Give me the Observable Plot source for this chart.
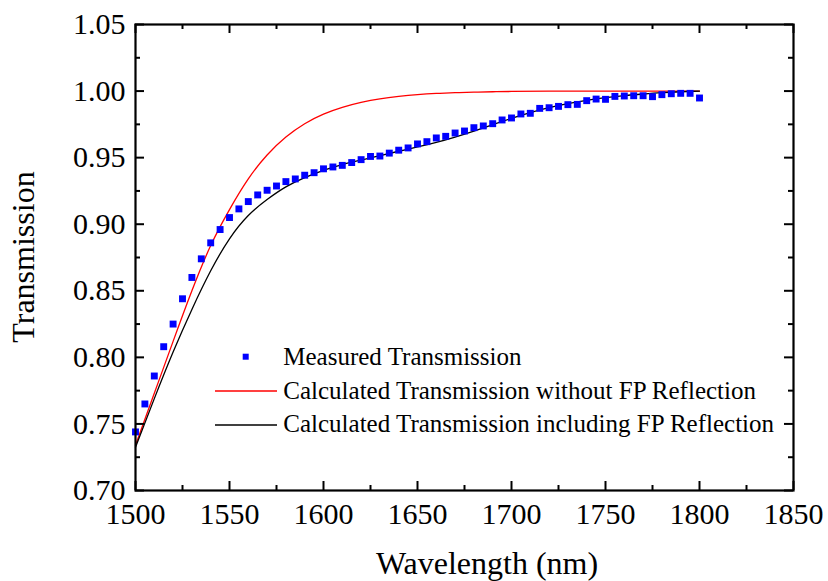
<!DOCTYPE html>
<html><head><meta charset="utf-8">
<script src="https://cdn.jsdelivr.net/npm/d3@7"></script>
<script src="https://cdn.jsdelivr.net/npm/@observablehq/plot@0.6"></script>
<style>
body{margin:0;background:#fff}
#chart{position:relative;width:828px;height:581px}
</style>
</head><body><div id="chart"></div>
<script>
// Measured transmission (blue squares)
const measuredWl = [1500,1505,1510,1515,1520,1525,1530,1535,1540,1545,1550,1555,1560,1565,1570,1575,1580,1585,1590,1595,
  1600,1605,1610,1615,1620,1625,1630,1635,1640,1645,1650,1655,1660,1665,1670,1675,1680,1685,1690,1695,
  1700,1705,1710,1715,1720,1725,1730,1735,1740,1745,1750,1755,1760,1765,1770,1775,1780,1785,1790,1795,1800];
const measuredT = [0.744,0.765,0.786,0.808,0.825,0.844,0.860,0.874,0.886,0.896,0.905,0.9115,0.917,0.922,0.9255,0.9287,0.932,0.934,0.9368,0.9387,
  0.9416,0.943,0.9442,0.9463,0.9485,0.9509,0.9512,0.9534,0.9556,0.9573,0.9603,0.962,0.9648,0.966,0.9685,0.970,0.9725,0.9738,0.9755,0.9783,
  0.9798,0.9828,0.9833,0.987,0.9875,0.9885,0.9898,0.990,0.9928,0.994,0.9938,0.996,0.9963,0.9965,0.9965,0.9958,0.9973,0.998,0.9983,0.9983,0.9948];

// Calculated without FP reflection (red)
const calcWl = [1500,1510,1520,1530,1540,1550,1560,1570,1580,1590,1600,1610,1620,1630,1640,1650,1660,1670,1680,1690,1700,1720,1750,1800];
const calcNoFP = [0.734,0.773,0.812,0.850,0.884,0.911,0.934,0.952,0.9655,0.9755,0.9827,0.9878,0.9915,0.9942,0.996,0.9973,0.9982,0.9988,0.9992,0.9995,0.9997,0.9999,1.000,1.000];

// Calculated including FP reflection (black)
const calcFPWl = [1500,1510,1520,1530,1540,1550,1560,1570,1580,1590,1600,1610,1620,1630,1640,1650,1660,1670,1680,1690,
  1700,1710,1720,1730,1740,1750,1760,1770,1780,1790,1800];
const calcFP = [0.7325,0.769,0.804,0.836,0.865,0.889,0.9065,0.9185,0.928,0.935,0.9405,0.9448,0.9482,0.9515,0.9548,0.958,0.9615,0.9655,0.970,0.9748,
  0.9795,0.9838,0.9875,0.9905,0.993,0.995,0.9966,0.9978,0.9988,0.9995,1.000];

const xTicks = [1500,1550,1600,1650,1700,1750,1800,1850];
const xMinor = [1525,1575,1625,1675,1725,1775,1825];
const yTicks = [0.70,0.75,0.80,0.85,0.90,0.95,1.00,1.05];
const yMinor = [0.725,0.775,0.825,0.875,0.925,0.975,1.025];

const legendLabels = ["Measured Transmission","Calculated Transmission without FP Reflection","Calculated Transmission including FP Reflection"];
const xTitle = "Wavelength (nm)";
const yTitle = "Transmission";

const measured = measuredWl.map((w,i)=>({w, t: measuredT[i]}));
const red = calcWl.map((w,i)=>({w, t: calcNoFP[i]}));
const black = calcFPWl.map((w,i)=>({w, t: calcFP[i]}));

const W = 828, H = 581, mL = 135, mR = 35, mT = 24, mB = 91;
const pw = W - mL - mR, ph = H - mT - mB;
const major = 9, minor = 5, tw = 2;

const chart = Plot.plot({
  width: W, height: H,
  marginLeft: mL, marginRight: mR, marginTop: mT, marginBottom: mB,
  x: {domain: [1500, 1850]},
  y: {domain: [0.70, 1.05]},
  style: {fontFamily: "'Liberation Serif','Times New Roman',serif", background: "white", color: "black"},
  marks: [
    Plot.line(red, {x: "w", y: "t", stroke: "#ff0000", strokeWidth: 1.3, curve: "natural"}),
    Plot.line(black, {x: "w", y: "t", stroke: "#000000", strokeWidth: 1.3, curve: "natural"}),
    Plot.dot(measured, {x: "w", y: "t", symbol: "square", r: 3.9, fill: "#0000ff", stroke: "none"}),
    // ticks (inward, all four sides)
    Plot.tickX(xTicks, {insetTop: ph - major, strokeWidth: tw}),
    Plot.tickX(xTicks, {insetBottom: ph - major, strokeWidth: tw}),
    Plot.tickX(xMinor, {insetTop: ph - minor, strokeWidth: tw}),
    Plot.tickX(xMinor, {insetBottom: ph - minor, strokeWidth: tw}),
    Plot.tickY(yTicks, {insetRight: pw - major, strokeWidth: tw}),
    Plot.tickY(yTicks, {insetLeft: pw - major, strokeWidth: tw}),
    Plot.tickY(yMinor, {insetRight: pw - minor, strokeWidth: tw}),
    Plot.tickY(yMinor, {insetLeft: pw - minor, strokeWidth: tw}),
    Plot.frame({stroke: "black", strokeWidth: 2.2}),
    Plot.axisX(xTicks, {tickSize: 0, tickPadding: 12, fontSize: 30, tickFormat: d => String(d), label: null}),
    Plot.axisY(yTicks, {tickSize: 0, tickPadding: 10, fontSize: 30, tickFormat: d3.format(".2f"), label: null})
  ]
});

document.getElementById("chart").appendChild(chart);

const svg = d3.select(chart);
const ff = "'Liberation Serif','Times New Roman',serif";
svg.append("text").attr("x", 487).attr("y", 574).attr("text-anchor", "middle")
  .attr("font-family", ff).attr("font-size", 32).attr("fill", "black").text(xTitle);
svg.append("text").attr("transform", "translate(34,257) rotate(-90)").attr("text-anchor", "middle")
  .attr("font-family", ff).attr("font-size", 32).attr("fill", "black").text(yTitle);

// legend
const lg = svg.append("g").attr("font-family", ff).attr("font-size", 25).attr("fill", "black").attr("text-anchor", "start");
const rows = [356.7, 391, 425];
const base = [365, 399, 432];
lg.append("rect").attr("x", 245.7 - 3).attr("y", rows[0] - 3).attr("width", 6).attr("height", 6).attr("fill", "#0000ff");
lg.append("line").attr("x1", 215).attr("x2", 277).attr("y1", rows[1]).attr("y2", rows[1]).attr("stroke", "#ff0000").attr("stroke-width", 1.3);
lg.append("line").attr("x1", 215).attr("x2", 277).attr("y1", rows[2]).attr("y2", rows[2]).attr("stroke", "#000").attr("stroke-width", 1.3);
legendLabels.forEach((t, i) => {
  lg.append("text").attr("x", 283.3).attr("y", base[i]).attr("text-anchor", "start").text(t);
});
</script>
</body></html>
